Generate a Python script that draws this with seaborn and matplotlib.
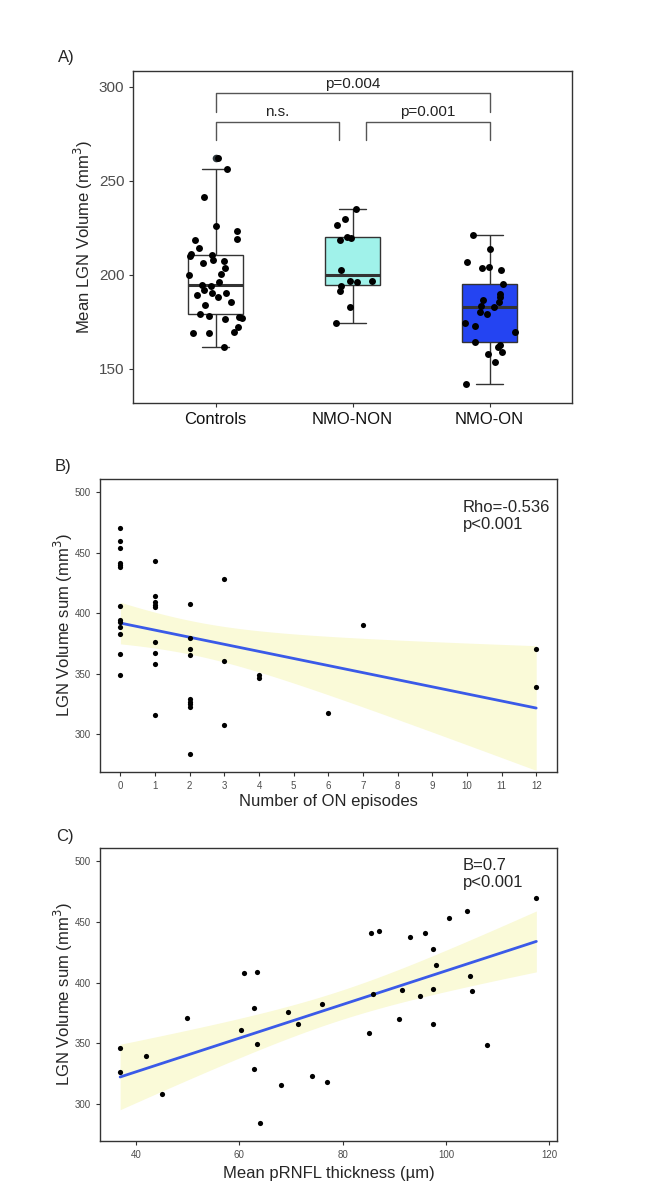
import numpy as np
import pandas as pd
import matplotlib
matplotlib.use("Agg")
import matplotlib.pyplot as plt
import seaborn as sns

# ---- data ----
groups = ["Controls", "NMO-NON", "NMO-ON"]
controls_vol = [262.2, 256.4, 241.7, 225.8, 223.5, 219.3, 218.6, 214.5, 211.3, 210.4,
                210.0, 207.7, 207.2, 206.3, 203.9, 200.7, 200.1, 196.1, 194.6, 194.0,
                191.8, 190.4, 190.4, 189.2, 188.0, 185.7, 183.9, 179.1, 178.0, 177.7,
                176.8, 176.3, 172.0, 169.7, 169.2, 169.2, 161.8]
nmo_non_vol = [235.0, 229.5, 226.5, 220.1, 219.6, 218.4, 202.7, 197.0, 197.0, 196.1,
               194.2, 191.2, 182.9, 174.2]
nmo_on_vol = [221.4, 213.8, 207.1, 204.1, 203.5, 202.7, 195.0, 189.6, 188.0, 186.6,
              185.3, 183.6, 182.9, 180.2, 179.2, 174.2, 173.0, 169.4, 164.5, 162.9,
              161.5, 158.8, 157.9, 153.7, 141.9]
brackets = [("Controls", "NMO-NON", "n.s."), ("NMO-NON", "NMO-ON", "p=0.001"),
            ("Controls", "NMO-ON", "p=0.004")]

on_episodes = [0]*13 + [1]*9 + [2]*9 + [3]*3 + [4]*2 + [6, 7, 12, 12]
lgn_sum_b = [470.0, 459.5, 453.4, 441.3, 439.7, 437.7, 405.5, 394.5, 392.8, 388.9, 382.6, 366.1, 349.0,
             443.0, 414.3, 409.3, 407.1, 405.0, 376.3, 367.4, 358.3, 315.9,
             407.7, 379.3, 370.2, 365.8, 329.2, 327.0, 325.0, 322.8, 284.0,
             428.1, 360.9, 307.7,
             349.3, 346.3,
             317.9, 390.4, 370.5, 339.4]

prnfl = [36.9, 36.9, 41.9, 45.0, 49.9, 60.4, 60.9, 62.9, 63.5, 63.5, 62.9, 64.0, 68.0,
         69.5, 71.4, 74.0, 75.9, 76.9, 85.0, 85.5, 85.9, 87.0, 91.0, 91.4, 93.0, 95.0,
         96.0, 97.5, 98.0, 97.5, 97.5, 100.5, 104.0, 104.6, 105.0, 108.0, 117.5]
lgn_sum_c = [346.2, 326.1, 339.3, 308.0, 370.7, 360.8, 407.6, 379.2, 408.7, 349.2, 328.9,
             284.0, 316.0, 376.2, 365.8, 323.1, 382.5, 318.2, 358.3, 440.6, 390.5, 442.8,
             369.9, 394.1, 437.6, 388.9, 440.6, 427.9, 414.2, 394.4, 366.0, 453.2, 459.3,
             405.4, 393.0, 349.0, 469.7]

box_colors = ["#FFFFFF", "#A0F2EA", "#2444F2"]
line_blue = "#3A5AE8"
band_yellow = "#FAFAD8"
frame_col = "#333333"

df_a = pd.DataFrame({
    "group": ["Controls"]*len(controls_vol) + ["NMO-NON"]*len(nmo_non_vol) + ["NMO-ON"]*len(nmo_on_vol),
    "vol": controls_vol + nmo_non_vol + nmo_on_vol,
})
df_b = pd.DataFrame({"episodes": on_episodes, "lgn": lgn_sum_b})
df_c = pd.DataFrame({"prnfl": prnfl, "lgn": lgn_sum_c})

sns.set_theme(style="white")
plt.rcParams["font.family"] = ["Liberation Sans", "DejaVu Sans"]

fig = plt.figure(figsize=(6.46, 12.03), dpi=100)


def style_frame(ax, tick_size):
    for sp in ax.spines.values():
        sp.set_visible(True)
        sp.set_color(frame_col)
        sp.set_linewidth(1.0)
    ax.tick_params(axis="both", which="both", length=3, width=0.8, color=frame_col,
                   labelcolor="#4D4D4D", labelsize=tick_size, bottom=True, left=True)
    ax.grid(False)


def lm_band(ax, x, y):
    # linear-model 95% confidence band (like geom_smooth(method="lm"))
    x = np.asarray(x, float)
    y = np.asarray(y, float)
    n = len(x)
    b1, b0 = np.polyfit(x, y, 1)
    resid = y - (b0 + b1 * x)
    s = np.sqrt(np.sum(resid**2) / (n - 2))
    sxx = np.sum((x - x.mean())**2)
    grid = np.linspace(x.min(), x.max(), 100)
    se = s * np.sqrt(1 / n + (grid - x.mean())**2 / sxx)
    fit = b0 + b1 * grid
    ax.fill_between(grid, fit - 2.02 * se, fit + 2.02 * se, color=band_yellow, lw=0, zorder=0.5)


# ---- A) boxplot ----
axA = fig.add_axes([0.2064, 0.6653, 0.6786, 0.2757])
sns.boxplot(data=df_a, x="group", y="vol", hue="group", order=groups, hue_order=groups,
            palette=box_colors, saturation=1, legend=False, width=0.4, linecolor=frame_col,
            linewidth=1, medianprops={"linewidth": 2.2},
            flierprops={"marker": "o", "markerfacecolor": "#2F3A3F", "markeredgecolor": "none",
                        "markersize": 5.5},
            ax=axA)
np.random.seed(3)
sns.stripplot(data=df_a, x="group", y="vol", order=groups, color="black", jitter=0.2,
              size=5, ax=axA, zorder=3)

# significance brackets
ymax = df_a["vol"].max()
pos = {g: i for i, g in enumerate(groups)}
for k, (g1, g2, lab) in enumerate(brackets):
    level = 0 if k < 2 else 1
    low = ymax + 9.5 + level * 15.2
    high = low + 9.7
    x1, x2 = pos[g1], pos[g2]
    if k == 0:
        x2 -= 0.1
    if k == 1:
        x1 += 0.1
    axA.plot([x1, x1, x2, x2], [low, high, high, low], color="#555555", lw=1)
    axA.text((x1 + x2) / 2, high + 1.5, lab, ha="center", va="bottom", fontsize=11, color="#222222")

axA.set_xlim(-0.6, 2.6)
axA.set_ylim(132, 308.5)
axA.set_yticks([150, 200, 250, 300])
axA.set_xlabel("")
axA.set_ylabel("Mean LGN Volume (mm$^3$)", fontsize=12, labelpad=3)
style_frame(axA, 11)
axA.tick_params(axis="x", labelsize=12, labelcolor="#111111", pad=4)
fig.text(0.102, 0.9526, "A)", fontsize=12, ha="center", va="center")

# ---- B) ON episodes ----
axB = fig.add_axes([0.1548, 0.3583, 0.7074, 0.2436])
lm_band(axB, on_episodes, lgn_sum_b)
sns.regplot(data=df_b, x="episodes", y="lgn", ax=axB, ci=None,
            scatter_kws={"s": 14, "color": "black", "alpha": 1, "linewidths": 0, "zorder": 3},
            line_kws={"lw": 2, "color": line_blue, "zorder": 2})
axB.set_xlim(-0.59, 12.6)
axB.set_ylim(269, 510.7)
axB.set_xticks(range(0, 13))
axB.set_yticks([300, 350, 400, 450, 500])
axB.set_xlabel("Number of ON episodes", fontsize=12, labelpad=2)
axB.set_ylabel("LGN Volume sum (mm$^3$)", fontsize=12, labelpad=0)
style_frame(axB, 7)
axB.text(0.794, 0.928, "Rho=-0.536\np<0.001", transform=axB.transAxes, ha="left", va="top",
         fontsize=12, linespacing=1.15)
fig.text(0.0975, 0.612, "B)", fontsize=12, ha="center", va="center")

# ---- C) pRNFL ----
axC = fig.add_axes([0.1548, 0.0515, 0.7074, 0.2436])
lm_band(axC, prnfl, lgn_sum_c)
sns.regplot(data=df_c, x="prnfl", y="lgn", ax=axC, ci=None,
            scatter_kws={"s": 14, "color": "black", "alpha": 1, "linewidths": 0, "zorder": 3},
            line_kws={"lw": 2, "color": line_blue, "zorder": 2})
axC.set_xlim(33, 121.5)
axC.set_ylim(269.5, 511)
axC.set_xticks([40, 60, 80, 100, 120])
axC.set_yticks([300, 350, 400, 450, 500])
axC.set_xlabel("Mean pRNFL thickness (µm)", fontsize=12)
axC.set_ylabel("LGN Volume sum (mm$^3$)", fontsize=12, labelpad=0)
style_frame(axC, 7)
axC.text(0.794, 0.965, "B=0.7\np<0.001", transform=axC.transAxes, ha="left", va="top",
         fontsize=12, linespacing=1.15)
fig.text(0.10, 0.305, "C)", fontsize=12, ha="center", va="center")

fig.savefig("out.png", dpi=100)
